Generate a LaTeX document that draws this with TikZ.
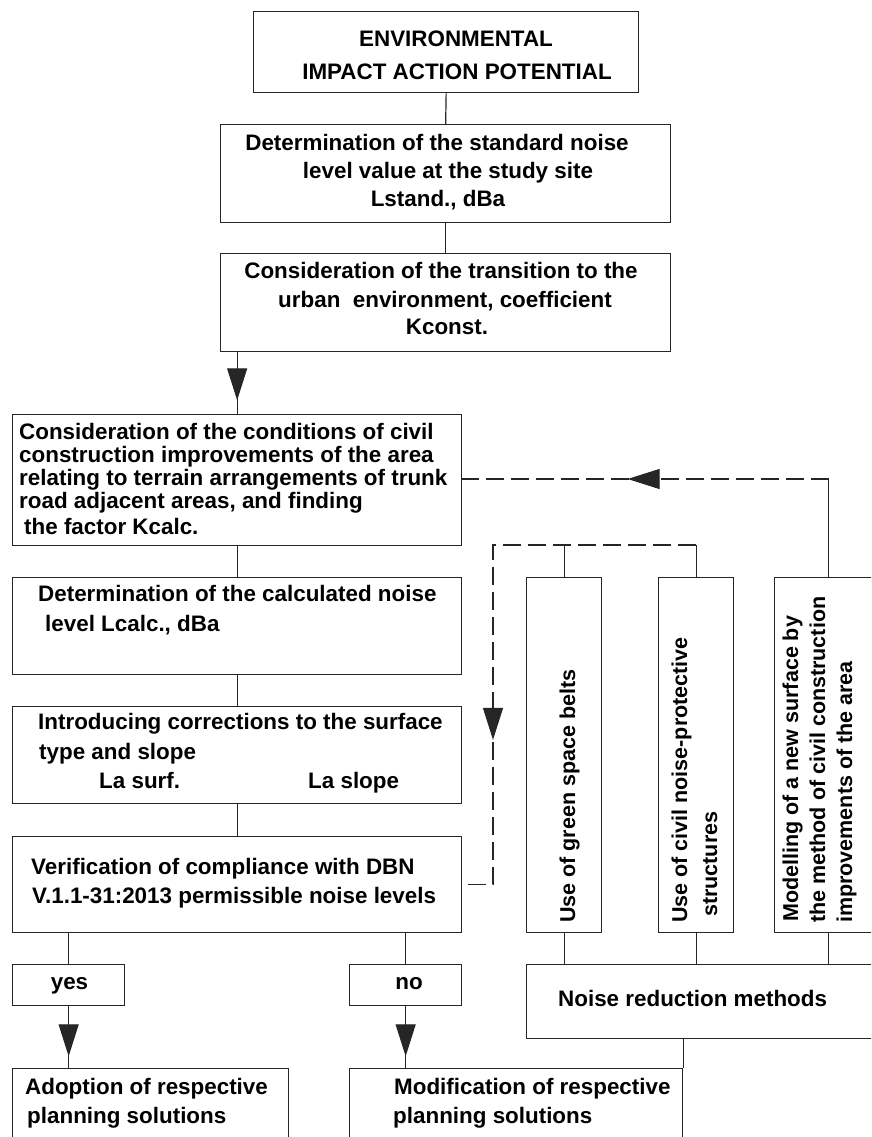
\documentclass[tikz,border=0pt]{standalone}
\usepackage{fontspec}
\setmainfont{Liberation Sans}
\usetikzlibrary{arrows.meta,decorations.markings,calc}
\tikzset{
  box/.style={draw=black!85, line width=1.3pt, minimum width=#1, inner sep=0pt, anchor=north west},
  txt/.style={font=\bfseries\fontsize{22.4}{24}\selectfont, inner sep=0pt, anchor=base west, text=black},
  ctxt/.style={txt, anchor=base},
  vtxt/.style={txt, font=\bfseries\fontsize{21.5}{24}\selectfont, rotate=90, anchor=base west},
  link/.style={draw=black!85, line width=1.2pt},
  dashlink/.style={link, dash pattern=on 18pt off 7pt},
  tipat/.style={decoration={markings, mark=at position #1 with {\arrow{Triangle[length=32pt,width=20pt]}}}, postaction={decorate}},
}
\begin{document}
\begin{tikzpicture}[x=1pt,y=-1pt]
\useasboundingbox (0,0) rectangle (871,1137);
\clip (0,0) rectangle (871,1137);
\fill[white] (0,0) rectangle (871,1137);
% boxes
\node[box=385pt, minimum height=81pt] (top) at (253,11) {};
\node[box=450pt, minimum height=98pt] (b2) at (220,124) {};
\node[box=450pt, minimum height=98pt] (b3) at (220,253) {};
\node[box=449pt, minimum height=131pt] (b4) at (12,414) {};
\node[box=449pt, minimum height=97pt] (b5) at (12,577) {};
\node[box=449pt, minimum height=97pt] (b6) at (12,706) {};
\node[box=449pt, minimum height=96pt] (b7) at (12,836) {};
\node[box=75pt, minimum height=355pt] (green) at (526,577) {};
\node[box=75pt, minimum height=355pt] (civil) at (658,577) {};
\node[box=108pt, minimum height=355pt] (model) at (774,577) {};
\node[box=356pt, minimum height=74pt] (noise) at (526,964) {};
\node[box=112pt, minimum height=41pt] (yes) at (12,964) {};
\node[box=112pt, minimum height=41pt] (no) at (349,964) {};
\node[box=276pt, minimum height=90pt] (adopt) at (12,1068) {};
\node[box=333pt, minimum height=90pt] (modif) at (349,1068) {};
% texts
\node[ctxt] (t1a) at (456,46.7) {ENVIRONMENTAL};
\node[ctxt] (t1b) at (457,80) {IMPACT ACTION POTENTIAL};
\node[ctxt] (t2a) at (437,150) {Determination of the standard noise};
\node[ctxt] (t2b) at (448,178) {level value at the study site};
\node[ctxt] (t2c) at (438,206) {Lstand., dBa};
\node[ctxt] (t3a) at (441,278) {Consideration of the transition to the};
\node[ctxt] (t3b) at (445,307) {urban\ \ environment, coefficient};
\node[ctxt] (t3c) at (447,334) {Kconst.};
\node[txt] (t4a) at (19,439) {Consideration of the conditions of civil};
\node[txt] (t4b) at (19,462) {construction improvements of the area};
\node[txt] (t4c) at (19,485) {relating to terrain arrangements of trunk};
\node[txt] (t4d) at (19,508) {road adjacent areas, and finding};
\node[txt] (t4e) at (24,534) {the factor Kcalc.};
\node[txt] (t5a) at (38,601) {Determination of the calculated noise};
\node[txt] (t5b) at (45,631) {level Lcalc., dBa};
\node[txt] (t6a) at (38,729) {Introducing corrections to the surface};
\node[txt] (t6b) at (39,759) {type and slope};
\node[txt] (t6c) at (99,788) {La surf.};
\node[txt] (t6d) at (308,788) {La slope};
\node[txt] (t7a) at (31,874) {Verification of compliance with DBN};
\node[txt] (t7b) at (32,903) {V.1.1-31:2013 permissible noise levels};
\node[ctxt] (tyes) at (69.5,989) {yes};
\node[ctxt] (tno) at (409,989) {no};
\node[txt] (tnoise) at (558,1006) {Noise reduction methods};
\node[txt] (tada) at (25,1094) {Adoption of respective};
\node[txt] (tadb) at (27,1123) {planning solutions};
\node[txt] (tmoa) at (394,1094) {Modification of respective};
\node[txt] (tmob) at (393,1123) {planning solutions};
\node[vtxt] (tg) at (575,923) {Use of green space belts};
\node[vtxt] (tca) at (687,923) {Use of civil noise-protective};
\node[vtxt] (tcb) at (717,917) {structures};
\node[vtxt] (tma) at (798,922) {Modelling of a new surface by};
\node[vtxt] (tmb) at (825,923) {the method of civil construction};
\node[vtxt] (tmc) at (852,923) {improvements of the area};
% connectors
\draw[link] (top.south) -- (b2.north);
\draw[link] (b2.south) -- (b3.north);
\draw[link, tipat=48pt] (b3.south -| b4.north) -- (b4.north);
\draw[link] (b4.south) -- (b5.north);
\draw[link] (b5.south) -- (b6.north);
\draw[link] (b6.south) -- (b7.north);
\draw[link] (b7.south -| yes.north) -- (yes.north);
\draw[link] (b7.south -| no.north) -- (no.north);
\draw[link, tipat=50pt] (yes.south) -- (adopt.north -| yes.south);
\draw[link, tipat=50pt] (no.south) -- (modif.north -| no.south);
\draw[link] (green.south) -- (noise.north -| green.south);
\draw[link] (civil.south) -- (noise.north -| civil.south);
\draw[link] (model.south) -- (noise.north -| model.south);
\draw[link] (noise.south -| modif.north east) -- (modif.north east);
% feedback loops
\coordinate (jr) at (civil.north |- 0,545);
\coordinate (jl) at (493,545);
\coordinate (mr) at (model.north |- 0,479);
\draw[link] (civil.north) -- (jr);
\draw[link] (green.north) -- (green.north |- jr);
\draw[dashlink, tipat=398pt] (jr) -- (jl) -- (jl |- b7.east) -- (b7.east);
\draw[link] (model.north) -- (mr);
\draw[dashlink, tipat=201pt] (mr) -- (mr -| b4.east) -- (b4.east |- mr);
\end{tikzpicture}
\end{document}
